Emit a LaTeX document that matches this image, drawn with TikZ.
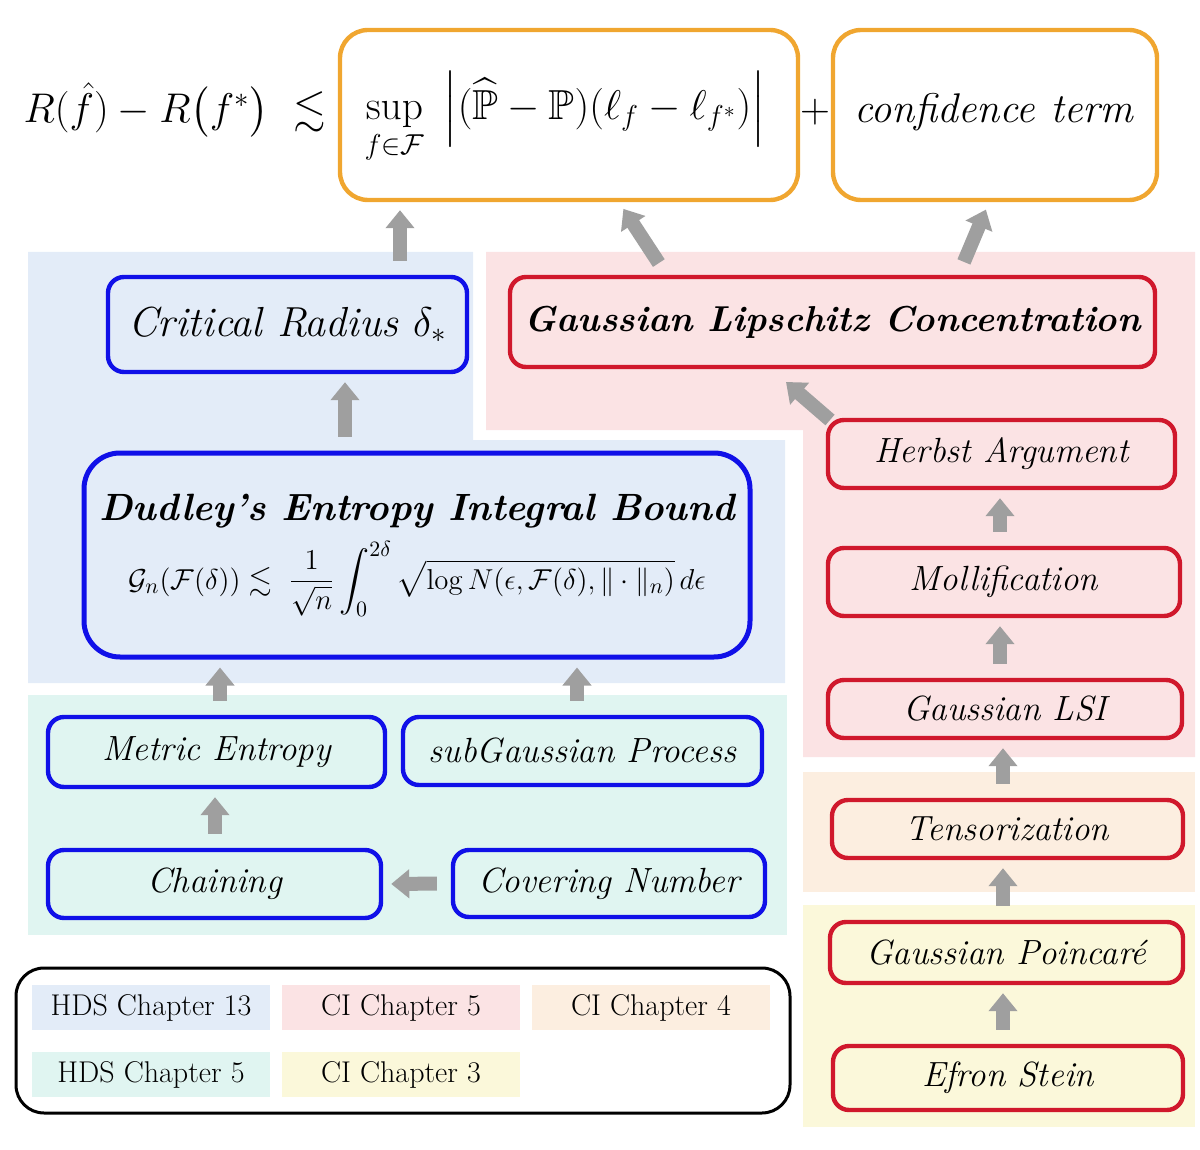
\documentclass[tikz,border=0pt]{standalone}
\usepackage{amsmath,amssymb}
\usetikzlibrary{arrows.meta}
\definecolor{bgB}{HTML}{E3ECF8}
\definecolor{bgT}{HTML}{E0F5F1}
\definecolor{bgP}{HTML}{FBE3E4}
\definecolor{bgO}{HTML}{FCEEE0}
\definecolor{bgY}{HTML}{FBF8DA}
\definecolor{bl}{HTML}{1010E8}
\definecolor{rd}{HTML}{D0182C}
\definecolor{org}{HTML}{F0A630}
\tikzset{
 box/.style={draw, line width=2.2pt, rounded corners=8pt, inner sep=0pt},
 bbox/.style={box, draw=bl},
 rbox/.style={box, draw=rd},
 obox/.style={box, draw=org, rounded corners=14pt},
 lab/.style={font=\fontsize{17.5}{20}\selectfont\itshape},
 leg/.style={inner sep=0pt, font=\fontsize{15}{17}\selectfont},
 arr/.style={draw=gray!75, line width=7pt, -{Triangle[width=14pt,length=9pt]}, shorten <=7pt, shorten >=4pt}
}
\begin{document}
\begin{tikzpicture}[x=0.5pt,y=-0.5pt]
\useasboundingbox (0,0) rectangle (1200,1150);
% regions
\fill[bgB] (28,252)--(473,252)--(473,440)--(785,440)--(785,683)--(28,683)--cycle;
\fill[bgT] (28,695) rectangle (787,935);
\fill[bgP] (486,252)--(1195,252)--(1195,757)--(803,757)--(803,430)--(486,430)--cycle;
\fill[bgO] (803,772) rectangle (1195,892);
\fill[bgY] (803,905) rectangle (1195,1127);
% legend
\node[draw, line width=1.5pt, rounded corners=14pt, minimum width=387pt, minimum height=72.5pt, inner sep=0pt] (legbox) at (403,1040.5) {};
\node[leg, fill=bgB, minimum width=119pt, minimum height=22.5pt] (l1) at (151,1007.5) {HDS Chapter 13};
\node[leg, fill=bgP, minimum width=119pt, minimum height=22.5pt] (l2) at (401,1007.5) {CI Chapter 5};
\node[leg, fill=bgO, minimum width=119pt, minimum height=22.5pt] (l3) at (651,1007.5) {CI Chapter 4};
\node[leg, fill=bgT, minimum width=119pt, minimum height=22.5pt] (l4) at (151,1074.5) {HDS Chapter 5};
\node[leg, fill=bgY, minimum width=119pt, minimum height=22.5pt] (l5) at (401,1074.5) {CI Chapter 3};
% top
\node[obox, minimum width=229pt, minimum height=85pt] (sup) at (569,115) {};
\node[font=\fontsize{21}{23}\selectfont] (supt) at (565,118) {$\displaystyle \sup_{f\in\mathcal{F}}\ \left|(\widehat{\mathbb{P}}-\mathbb{P})(\ell_f-\ell_{f^*})\right|$};
\node[obox, minimum width=162pt, minimum height=85pt] (conf) at (995,115) {};
\node[font=\fontsize{21}{23}\selectfont] (conft) at (995,112) {$\mathit{confidence\ term}$};
\node[font=\fontsize{21}{23}\selectfont, anchor=east] (lhs) at (333,110) {$R(\hat f)-R\bigl(f^*\bigr)\ \lesssim$};
\node[font=\fontsize{21}{23}\selectfont] (plus) at (815,112) {$+$};
% blue
\node[bbox, fill=bgB, minimum width=179.5pt, minimum height=47.5pt, font=\fontsize{21}{23}\selectfont\itshape] (crit) at (287.5,324.5) {Critical Radius $\delta_*$};
\node[bbox, fill=bgB, minimum width=333pt, minimum height=102pt, line width=2.5pt, rounded corners=18pt, align=center] (dud) at (417,555)
 {{\fontsize{19}{22}\selectfont\bfseries\itshape Dudley's Entropy Integral Bound}\\[6pt]
  {\fontsize{15}{17}\selectfont $\mathcal{G}_n(\mathcal{F}(\delta))\lesssim\ \dfrac{1}{\sqrt{n}}\displaystyle\int_0^{2\delta}\sqrt{\log N(\epsilon,\mathcal{F}(\delta),\|\cdot\|_n)}\,d\epsilon$}};
\node[bbox, fill=bgT, minimum width=168.5pt, minimum height=35pt, lab] (met) at (216.5,752) {Metric Entropy};
\node[bbox, fill=bgT, minimum width=179.5pt, minimum height=34pt, lab] (sub) at (582.5,751) {subGaussian Process};
\node[bbox, fill=bgT, minimum width=166.5pt, minimum height=34pt, lab] (cha) at (214.5,884) {Chaining};
\node[bbox, fill=bgT, minimum width=156pt, minimum height=33.5pt, lab] (cov) at (609,883.5) {Covering Number};
% red
\node[rbox, fill=bgP, minimum width=322.5pt, minimum height=45pt, font=\fontsize{18}{20}\selectfont\bfseries\itshape] (glc) at (832.5,322) {Gaussian Lipschitz Concentration};
\node[rbox, fill=bgP, minimum width=173.5pt, minimum height=34pt, lab] (her) at (1001.5,454) {Herbst Argument};
\node[rbox, fill=bgP, minimum width=176pt, minimum height=34pt, lab] (mol) at (1004,582) {Mollification};
\node[rbox, fill=bgP, minimum width=177pt, minimum height=29pt, lab] (lsi) at (1005,709) {Gaussian LSI};
\node[rbox, fill=bgO, minimum width=175.5pt, minimum height=29pt, lab] (ten) at (1007.5,829) {Tensorization};
\node[rbox, fill=bgY, minimum width=176.5pt, minimum height=30.5pt, lab] (poi) at (1006.5,952.5) {Gaussian Poincar\'e};
\node[rbox, fill=bgY, minimum width=175pt, minimum height=32pt, lab] (efr) at (1008,1078) {Efron Stein};
\coordinate (hs) at (830,420);
\coordinate (he) at (786,382);
% arrows
\draw[arr] (crit.north -| 400,0) -- (sup.south -| 400,0);
\draw[arr] ([xshift=-83pt]glc.north) -- ([xshift=25pt]sup.south);
\draw[arr] ([xshift=63pt]glc.north) -- ([xshift=-3pt]conf.south);
\draw[arr] (dud.north -| 345,0) -- (crit.south -| 345,0);
\draw[arr] (met.north -| 220,0) -- (dud.south -| 220,0);
\draw[arr] (sub.north -| 577,0) -- (dud.south -| 577,0);
\draw[arr] (cha.north -| 215,0) -- (met.south -| 215,0);
\draw[arr] (cov.west) -- (cha.east);
\draw[arr, shorten <=0pt, shorten >=0pt] (hs) -- (he);
\draw[arr] (mol.north -| 1000,0) -- (her.south -| 1000,0);
\draw[arr] (lsi.north -| 1000,0) -- (mol.south -| 1000,0);
\draw[arr] (ten.north -| 1003,0) -- (lsi.south -| 1003,0);
\draw[arr] (poi.north -| 1003,0) -- (ten.south -| 1003,0);
\draw[arr] (efr.north -| 1003,0) -- (poi.south -| 1003,0);
\end{tikzpicture}
\end{document}
